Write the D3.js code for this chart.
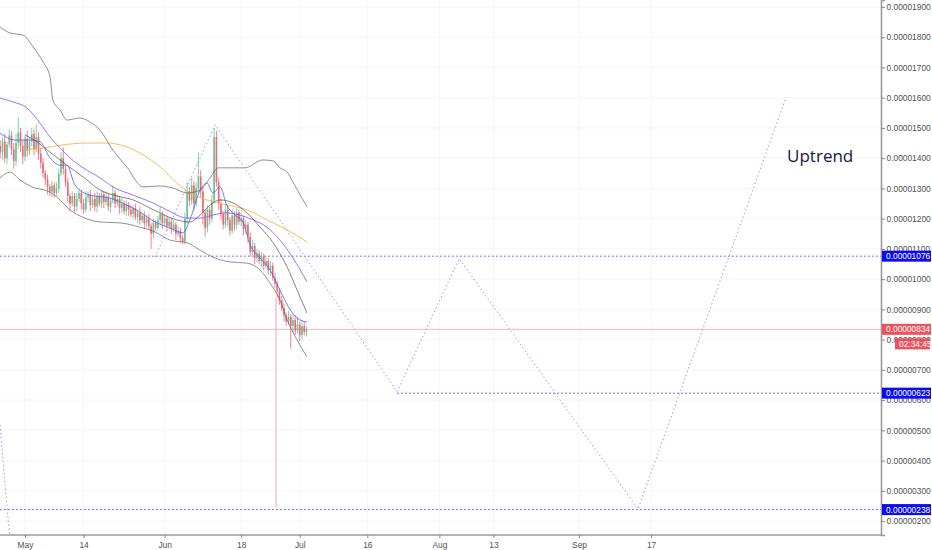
<!DOCTYPE html>
<html><head><meta charset="utf-8">
<script src="https://cdn.jsdelivr.net/npm/d3@7/dist/d3.min.js"></script>
<style>html,body{margin:0;padding:0;background:#fff;}svg{display:block;}</style>
</head><body>
<svg id="c" width="932" height="550"></svg>
<script>
// ---------- DATA (prices in units of 1e-8) ----------
const priceTicks = [200,300,400,500,600,700,800,900,1000,1100,1200,1300,1400,1500,1600,1700,1800,1900];
const dateTicks = ["2018-05-01","2018-05-14","2018-06-01","2018-06-18","2018-07-01","2018-07-16","2018-08-01","2018-08-13","2018-09-01","2018-09-17"];
const dateTickLabels = ["May","14","Jun","18","Jul","16","Aug","13","Sep","17"];

// 12h candles starting 2018-04-25 12:00
const candleStart = "2018-04-25 12:00";
const firstOpen = 1440;
const closes = [
1420,1455,1400,1445,1475,1430,1390,1450,1485,
1440,1405,1465,1425,1455,
1480,1430,1470,1415,
1385,1350,1330,1305,1290,
1310,1285,1300,
1350,1400,1365,
1320,1275,1250,
1275,1240,1265,1285,1250,1230,1270,1280,1245,1265,1240,1275,1250,
1280,1255,1270,1240,1260,1285,1250,
1265,1235,1250,1225,1245,1230,1215,
1235,1205,1220,1195,1210,1185,1200,1175,
1150,1185,1170,
1195,1215,1185,1200,1175,1190,
1165,1180,1150,1160,1135,1125,
1200,1290,1260,
1310,1250,1300,1340,
1290,1220,1170,1230,1200,1260,
1470,1320,1250,
1215,1180,1230,1195,1160,1210,1180,1220,1190,1200,1165,1180,
1140,1090,1110,1070,1085,1060,1075,1045,1060,
1030,1045,1005,985,960,930,905,
880,860,875,845,
865,830,850,815,845,825,834];
const wickHi = [
20,15,25,10,20,15,20,30,50,
15,20,10,25,15,
20,15,40,15,
20,15,10,15,10,
15,10,20,
15,20,35,
10,15,10,
15,10,20,15,10,15,20,10,15,10,20,15,10,
15,10,20,15,10,25,10,
15,10,20,10,15,10,15,
10,15,10,20,10,15,10,15,
10,15,10,
15,25,10,15,10,15,
10,15,10,15,10,10,
20,30,15,
25,15,20,80,
20,15,10,15,10,20,
30,20,15,
15,10,20,15,10,20,15,15,10,20,10,15,
10,15,20,10,15,10,15,10,15,
10,15,10,15,10,10,15,
15,10,20,10,
20,15,25,10,20,15,10];
const wickLo = [
20,25,15,20,10,20,25,15,20,
20,25,15,20,15,
15,20,10,20,
20,15,20,25,15,
20,15,10,
15,10,20,
15,20,25,
10,20,15,10,20,15,10,15,20,10,15,20,10,
15,20,10,15,20,10,15,
10,20,15,10,15,20,10,
15,10,20,15,10,20,15,10,
50,15,10,
10,15,20,10,15,10,
15,10,20,10,15,10,
10,15,20,
15,20,10,15,
20,40,30,15,20,10,
10,15,20,
20,15,10,20,15,10,20,15,10,15,20,15,
20,15,10,20,15,10,20,15,10,
15,20,10,15,20,15,10,
20,15,10,75,
20,15,10,20,15,10,15];

// indicator lines: [days after 2018-05-01, price]
const upperBand = [[-5.55,1834],[-3.33,1814],[-0.44,1807],[1.78,1768],[4.0,1718],[5.55,1669],[6.2,1592],[7.8,1559],[9.3,1526],[12.2,1533],[14.4,1520],[16.65,1493],[19.5,1427],[22.6,1371],[26.2,1305],[30.0,1308],[32.9,1301],[36.0,1285],[38.9,1295],[41.1,1335],[42.9,1368],[48.8,1368],[52.8,1394],[55.1,1391],[56.6,1368],[58.2,1354],[59.5,1321],[61.1,1278],[62.6,1239]];
const lowerBand = [[-5.55,1335],[-3.33,1354],[-1.11,1328],[1.55,1305],[5.55,1288],[7.77,1262],[10.0,1229],[13.3,1202],[16.65,1189],[21.1,1186],[25.5,1172],[28.9,1156],[32.2,1129],[36.0,1120],[38.9,1096],[41.7,1073],[45.5,1057],[49.3,1053],[52.2,1030],[54.4,987],[56.6,931],[58.2,865],[60.4,799],[62.6,743]];
const midBand = [[0,1477],[2.66,1454],[5.55,1420],[9.3,1377],[12.9,1338],[16.65,1295],[20.4,1275],[24.0,1262],[27.75,1235],[33.7,1196],[36.6,1189],[38.9,1212],[41.1,1245],[43.3,1262],[46.2,1252],[49.3,1219],[52.2,1172],[55.1,1120],[58.2,1040],[60.4,964],[62.6,888]];
const purpleMA = [[-5.55,1599],[-2.66,1586],[0.44,1566],[3.33,1516],[5.55,1470],[7.77,1434],[10.0,1401],[12.9,1368],[16.65,1335],[19.5,1305],[24.0,1278],[28.4,1252],[31.5,1229],[36.0,1202],[38.9,1202],[41.7,1212],[44.8,1219],[47.7,1212],[50.6,1196],[53.7,1172],[56.6,1129],[59.5,1070],[62.6,991]];
const orangeMA = [[0,1427],[4.4,1434],[8.4,1444],[13.8,1450],[18.2,1450],[21.1,1444],[25.5,1417],[30.0,1371],[33.7,1318],[36.6,1285],[40.4,1262],[44.8,1245],[49.3,1229],[53.7,1196],[58.2,1163],[62.6,1123]];
const blueMA = [[-5.55,1483],[-2.2,1460],[1.1,1460],[3.33,1454],[5.55,1401],[7.77,1377],[9.3,1377],[11.1,1311],[14.4,1278],[18.9,1268],[22.6,1245],[25.5,1222],[28.9,1189],[32.2,1169],[35.1,1153],[36.6,1196],[38.9,1295],[40.4,1318],[41.7,1285],[43.3,1305],[44.8,1245],[46.6,1212],[48.4,1189],[50.0,1113],[52.2,1070],[54.4,1030],[56.6,964],[58.9,898],[60.4,872],[62.6,858]];

// drawings
const pattern = [[28.86,1073],[42.2,1510],[82.6,628],[96.4,1068],[136.1,240],[169.0,1602]];
const leftSegment = [[-5.55,518],[-3.3,130]];
const levelLines = [{v:1076,from:-5.6},{v:623,from:82.6},{v:238,from:-5.6}];
const lastPrice = 834;
const countdown = "02:34:45";
const markerLine = [[55.73,940],[55.73,245]];
const noteText = "Uptrend";
const notePos = [169.2, 1387];

// ---------- CHART ----------
const W = 932, H = 550, PR = 881, PB = 535;
const svg = d3.select("#c");
const base = new Date(2018,4,1);
const dayToDate = d => new Date(base.getTime() + d*864e5);
const x = d3.scaleTime().domain([new Date(2018,3,25,10,47), new Date(2018,10,7,1,12)]).range([0, PR]);
const y = d3.scaleLinear().domain([154, 1923]).range([PB, 0]);
const parseDay = d3.timeParse("%Y-%m-%d");
const parseMin = d3.timeParse("%Y-%m-%d %H:%M");
const tickDates = dateTicks.map(parseDay);

svg.append("defs").append("clipPath").attr("id","plot").append("rect").attr("x",0).attr("y",0).attr("width",PR).attr("height",PB);

// grid
const grid = svg.append("g").attr("clip-path","url(#plot)");
grid.selectAll(".gx").data(tickDates).join("line").attr("x1",d=>x(d)).attr("x2",d=>x(d)).attr("y1",0).attr("y2",PB).attr("stroke","#f5f5f7").attr("stroke-width",1);
grid.selectAll(".gy").data(priceTicks).join("line").attr("x1",0).attr("x2",PR).attr("y1",d=>y(d)).attr("y2",d=>y(d)).attr("stroke","#f5f5f7").attr("stroke-width",1);

const plot = svg.append("g").attr("clip-path","url(#plot)");

// last price line + marker
plot.append("line").attr("x1",0).attr("x2",PR).attr("y1",y(lastPrice)).attr("y2",y(lastPrice)).attr("stroke","#f7b3b6").attr("stroke-width",1);
plot.append("line").attr("x1",x(dayToDate(markerLine[0][0]))).attr("x2",x(dayToDate(markerLine[1][0]))).attr("y1",y(markerLine[0][1])).attr("y2",y(markerLine[1][1])).attr("stroke","#f4a3a8").attr("stroke-width",1);

// level lines
plot.selectAll(".lvl").data(levelLines).join("line").attr("x1",d=>x(dayToDate(d.from))).attr("x2",PR).attr("y1",d=>y(d.v)).attr("y2",d=>y(d.v)).attr("stroke","#7070ea").attr("stroke-width",1).attr("stroke-dasharray","2,2");

// candles
const t0 = parseMin(candleStart);
const candles = closes.map((c,i)=>{
  const o = i===0 ? firstOpen : closes[i-1];
  return {t:new Date(t0.getTime()+i*12*3600e3), o, c, h:Math.max(o,c)+wickHi[i], l:Math.min(o,c)-wickLo[i]};
});
const up = "#53b987", dn = "#eb4d5c";
const cg = plot.append("g").attr("opacity",0.85);
cg.selectAll(".w").data(candles).join("line").attr("x1",d=>x(d.t)).attr("x2",d=>x(d.t)).attr("y1",d=>y(d.h)).attr("y2",d=>y(d.l)).attr("stroke",d=>d.c>=d.o?up:dn).attr("stroke-width",0.8);
cg.selectAll(".b").data(candles).join("rect").attr("x",d=>x(d.t)-0.8).attr("width",1.6).attr("y",d=>y(Math.max(d.o,d.c))).attr("height",d=>Math.max(0.8,Math.abs(y(d.o)-y(d.c)))).attr("fill",d=>d.c>=d.o?up:dn);

// indicators
const line = d3.line().x(d=>x(dayToDate(d[0]))).y(d=>y(d[1])).curve(d3.curveMonotoneX);
const drawL = (data,color,w,op)=>plot.append("path").datum(data).attr("d",line).attr("fill","none").attr("stroke",color).attr("stroke-width",w).attr("opacity",op);
drawL(orangeMA,"#f7b54c",1,0.9);
drawL(purpleMA,"#9362f0",1,0.9);
drawL(upperBand,"#5c5c5c",0.8,0.85);
drawL(lowerBand,"#5c5c5c",0.8,0.85);
drawL(midBand,"#4a4a4a",0.8,0.85);
drawL(blueMA,"#4a63f0",0.9,0.9);

// pattern drawing
const pline = d3.line().x(d=>x(dayToDate(d[0]))).y(d=>y(d[1]));
plot.append("path").datum(pattern).attr("d",pline).attr("fill","none").attr("stroke","#a393f0").attr("stroke-width",1).attr("stroke-dasharray","1.5,2.5");
plot.append("path").datum(leftSegment).attr("d",pline).attr("fill","none").attr("stroke","#a393f0").attr("stroke-width",1).attr("stroke-dasharray","1.5,2.5");

// note
svg.append("text").attr("x",x(dayToDate(notePos[0]))).attr("y",y(notePos[1])).text(noteText)
  .attr("font-family","Open Sans, sans-serif").attr("font-size",17).attr("fill","#16163f");

// axes
const ya = svg.append("g").attr("transform",`translate(${PR},0)`)
  .call(d3.axisRight(y).tickValues(priceTicks).tickSize(4).tickFormat(v=>(v/1e8).toFixed(8)));
const xa = svg.append("g").attr("transform",`translate(0,${PB})`)
  .call(d3.axisBottom(x).tickValues(tickDates).tickSize(3).tickFormat((d,i)=>dateTickLabels[i]));
[ya,xa].forEach(a=>{
  a.select(".domain").attr("stroke","#9a9a9a").attr("stroke-width",1.6);
  a.selectAll(".tick line").attr("stroke","#8a8a8a");
  a.selectAll("text").attr("fill","#505050").attr("font-family","Liberation Sans, Arial, sans-serif").attr("font-size",8.4);
});
ya.selectAll("text").attr("x",5.5);
xa.selectAll("text").attr("dy","0.85em");
xa.select(".domain").attr("d",`M0,0H${PR}`);

// price labels
const lbl = svg.append("g");
function priceLabel(v,color){
  lbl.append("rect").attr("x",PR+1).attr("y",y(v)-5.5).attr("width",49).attr("height",11).attr("fill",color);
  lbl.append("text").attr("x",PR+5).attr("y",y(v)+3).text((v/1e8).toFixed(8)).attr("fill","#fff")
    .attr("font-family","Liberation Sans, Arial, sans-serif").attr("font-size",8.4);
}
levelLines.forEach(l=>priceLabel(l.v,"#0b0bf0"));
priceLabel(lastPrice,"#e9525e");
lbl.append("rect").attr("x",895).attr("y",y(lastPrice)+9).attr("width",35).attr("height",11).attr("fill","#e9525e");
lbl.append("text").attr("x",899).attr("y",y(lastPrice)+17.5).text(countdown).attr("fill","#fff")
  .attr("font-family","Liberation Sans, Arial, sans-serif").attr("font-size",8.4);
</script>
</body></html>
